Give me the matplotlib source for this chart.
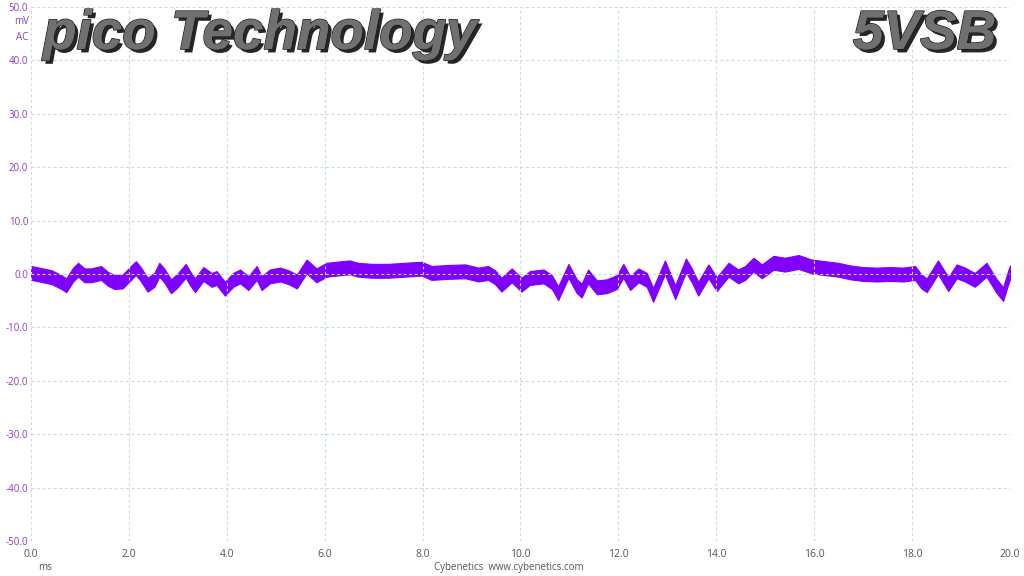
import matplotlib.pyplot as plt
import matplotlib.patheffects as pe
import numpy as np

# Lecturas aproximadas de la traza (centro de la banda de ruido)
t_ms = [0.0, 0.22, 0.42, 0.62, 0.72, 0.86, 0.96, 1.09, 1.23, 1.43, 1.57, 1.70, 1.87,
        2.04, 2.14, 2.24, 2.38, 2.52, 2.62, 2.72, 2.86, 2.99, 3.16, 3.25, 3.35, 3.52,
        3.69, 3.79, 3.96, 4.13, 4.27, 4.44, 4.61, 4.71, 4.88, 5.09, 5.26, 5.43, 5.63,
        5.83, 6.04, 6.24, 6.51, 6.68, 6.96, 7.30, 7.64, 7.98, 8.18, 8.53, 8.87, 9.14,
        9.34, 9.48, 9.61, 9.82, 10.02, 10.19, 10.47, 10.64, 10.77, 10.98, 11.15, 11.25,
        11.38, 11.56, 11.76, 11.97, 12.10, 12.24, 12.41, 12.58, 12.71, 12.95, 13.16,
        13.38, 13.50, 13.63, 13.84, 14.01, 14.25, 14.45, 14.59, 14.76, 14.93, 15.17,
        15.40, 15.68, 15.95, 16.22, 16.49, 16.74, 17.00, 17.28, 17.55, 17.82, 18.06,
        18.19, 18.30, 18.53, 18.74, 18.91, 19.08, 19.28, 19.52, 19.73, 19.86, 19.96, 20.0]
v_mv = [0.2, -0.2, -0.6, -1.5, -2.1, -0.1, 0.8, -0.25, -0.25, 0.2, -0.9, -1.5, -1.4,
        0.2, 1.1, 0.0, -2.0, -1.1, 0.8, -0.25, -2.3, -1.25, 0.6, -0.8, -2.1, 0.0,
        -1.1, -0.75, -2.75, -1.1, -0.45, -1.7, 0.2, -1.7, -0.45, -0.1, -0.6, -1.4, 1.4,
        -0.25, 0.8, 1.0, 1.25, 0.8, 0.6, 0.6, 0.8, 1.0, 0.2, 0.4, 0.5, -0.1,
        0.2, -0.6, -2.0, -0.25, -2.0, -0.75, -0.45, -1.5, -3.6, 0.6, -2.3, -3.1,
        -0.45, -2.5, -2.3, -1.5, 0.6, -1.7, -0.25, -1.1, -3.9, 1.25, -3.4,
        1.6, -0.25, -2.75, 0.5, -1.9, 0.8, -0.45, 0.2, 1.75, 0.5, 2.1,
        1.75, 2.25, 1.4, 1.1, 0.8, 0.3, 0.0, -0.1, 0.0, -0.1, 0.2,
        -1.4, -2.1, 1.25, -1.9, 0.5, -0.1, -1.1, 0.8, -2.3, -3.75, -0.75, 0.3]

y_ticks = [50, 40, 30, 20, 10, 0, -10, -20, -30, -40, -50]
x_ticks = [0, 2, 4, 6, 8, 10, 12, 14, 16, 18, 20]

morado = '#7f00ff'
banda = 1.3  # semiancho del ruido en mV

t = np.array(t_ms)
v = np.array(v_mv)

fig = plt.figure(figsize=(10.24, 5.76), dpi=100)
ax = fig.add_axes([0.0303, 0.0608, 0.956, 0.927])

ax.fill_between(t, v - banda, v + banda, color=morado, linewidth=0.8, edgecolor=morado)

ax.set_xlim(0, 20)
ax.set_ylim(-50, 50)
ax.set_xticks(x_ticks)
ax.set_yticks(y_ticks)
ax.set_xticklabels([f"{x:.1f}" for x in x_ticks], color='#555555', fontsize=7.5, family='Open Sans')
ax.set_yticklabels([f"{y:.1f}" for y in y_ticks], color='#8a3cc8', fontsize=7, family='Open Sans')
ax.tick_params(axis='x', length=0, pad=6)
ax.tick_params(axis='y', length=0, pad=2)
ax.grid(True, color='#c2dce0', linestyle=(0, (2.5, 2.5)), linewidth=0.8)
for s in ax.spines.values():
    s.set_visible(False)

fig.text(0.028, 0.962, "mV", ha='right', va='center', fontsize=7, color='#8a3cc8', family='Open Sans')
fig.text(0.028, 0.935, "AC", ha='right', va='center', fontsize=7, color='#8a3cc8', family='Open Sans')
fig.text(0.037, 0.006, "ms", ha='left', va='bottom', fontsize=7, color='#555555', family='Open Sans')
fig.text(0.497, 0.006, "Cybenetics  www.cybenetics.com", ha='center', va='bottom',
         fontsize=7, color='#555555', family='Open Sans')

efectos = [pe.SimplePatchShadow(offset=(2.5, -2.5), shadow_rgbFace='black', alpha=0.85),
           pe.withStroke(linewidth=1.2, foreground='#1a1a1a'), pe.Normal()]
fig.text(0.042, 0.915, "pico Technology", fontsize=39.5, fontweight='bold', style='italic',
         family='Liberation Sans', color='#707070', va='baseline', path_effects=efectos)
fig.text(0.973, 0.915, "5VSB", fontsize=39.5, fontweight='bold', style='italic',
         family='Liberation Sans', color='#707070', ha='right', va='baseline', path_effects=efectos)

plt.savefig("out.png", dpi=100)
